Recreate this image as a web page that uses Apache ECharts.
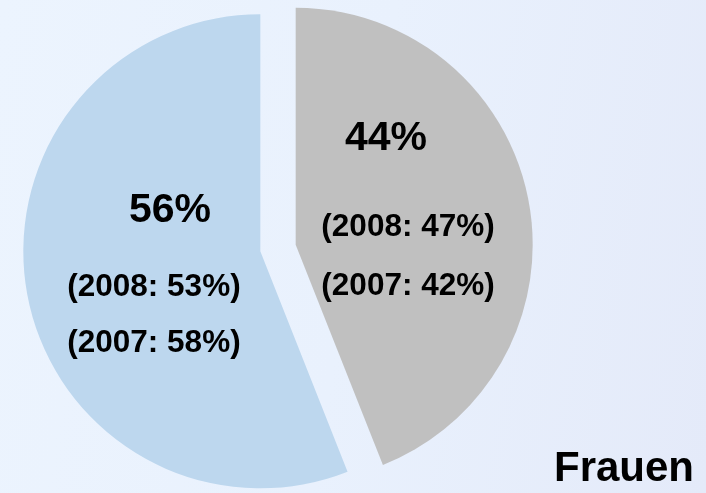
<!DOCTYPE html>
<html>
<head>
<meta charset="utf-8">
<script src="https://cdn.jsdelivr.net/npm/echarts@6/dist/echarts.min.js"></script>
<style>
  html, body { margin: 0; padding: 0; }
  #chart {
    width: 706px;
    height: 493px;
    background: linear-gradient(100deg, #ecf4fe 0%, #e9f1fd 50%, #e4eaf9 100%);
  }
</style>
</head>
<body>
<div id="chart"></div>
<script>
// slices clockwise from 12 o'clock
const sliceNames = ['Anteil 44', 'Anteil 56']
const shareNow = [44, 56]
const share2008 = [47, 53]
const share2007 = [42, 58]
const sliceColors = ['#c0c0c0', '#bdd7ee']
const groupLabel = 'Frauen'

const chart = echarts.init(document.getElementById('chart'))

// per-slice label layout (big number shifted, line spacing)
const labelStyles = [
  { bigPad: [0, 44, 0, 0], bigLH: 117, smallLH: 59, dx: -7, dy: -24 },
  { bigPad: [0, 0, 0, 32], bigLH: 96, smallLH: 56, dx: 13, dy: -7 }
]

const font = '"Liberation Sans", Arial, sans-serif'

const option = {
  backgroundColor: 'transparent',
  animation: false,
  title: {
    text: groupLabel,
    right: 7,
    top: 443,
    textStyle: { fontFamily: font, fontSize: 42, fontWeight: 'bold', color: '#000' }
  },
  series: [
    {
      type: 'pie',
      center: [278, 248],
      radius: 237,
      startAngle: 90,
      clockwise: true,
      selectedMode: 'multiple',
      selectedOffset: 18,
      silent: true,
      itemStyle: { borderWidth: 0 },
      select: { itemStyle: { borderWidth: 0 } },
      labelLine: { show: false },
      labelLayout: (p) => ({ dx: labelStyles[p.dataIndex].dx, dy: labelStyles[p.dataIndex].dy }),
      data: shareNow.map((v, i) => ({
        name: sliceNames[i],
        value: v,
        selected: true,
        itemStyle: { color: sliceColors[i] },
        select: { itemStyle: { color: sliceColors[i], borderWidth: 0 } },
        label: {
          show: true,
          position: 'inside',
          formatter: `{big|${v}%}\n{small|(2008: ${share2008[i]}%)}\n{small|(2007: ${share2007[i]}%)}`,
          rich: {
            big: {
              fontFamily: font, fontSize: 41, fontWeight: 'bold', color: '#000',
              lineHeight: labelStyles[i].bigLH, align: 'center', padding: labelStyles[i].bigPad
            },
            small: {
              fontFamily: font, fontSize: 31.5, fontWeight: 'bold', color: '#000',
              lineHeight: labelStyles[i].smallLH, align: 'center'
            }
          }
        }
      }))
    }
  ]
}

chart.setOption(option)
</script>
</body>
</html>
